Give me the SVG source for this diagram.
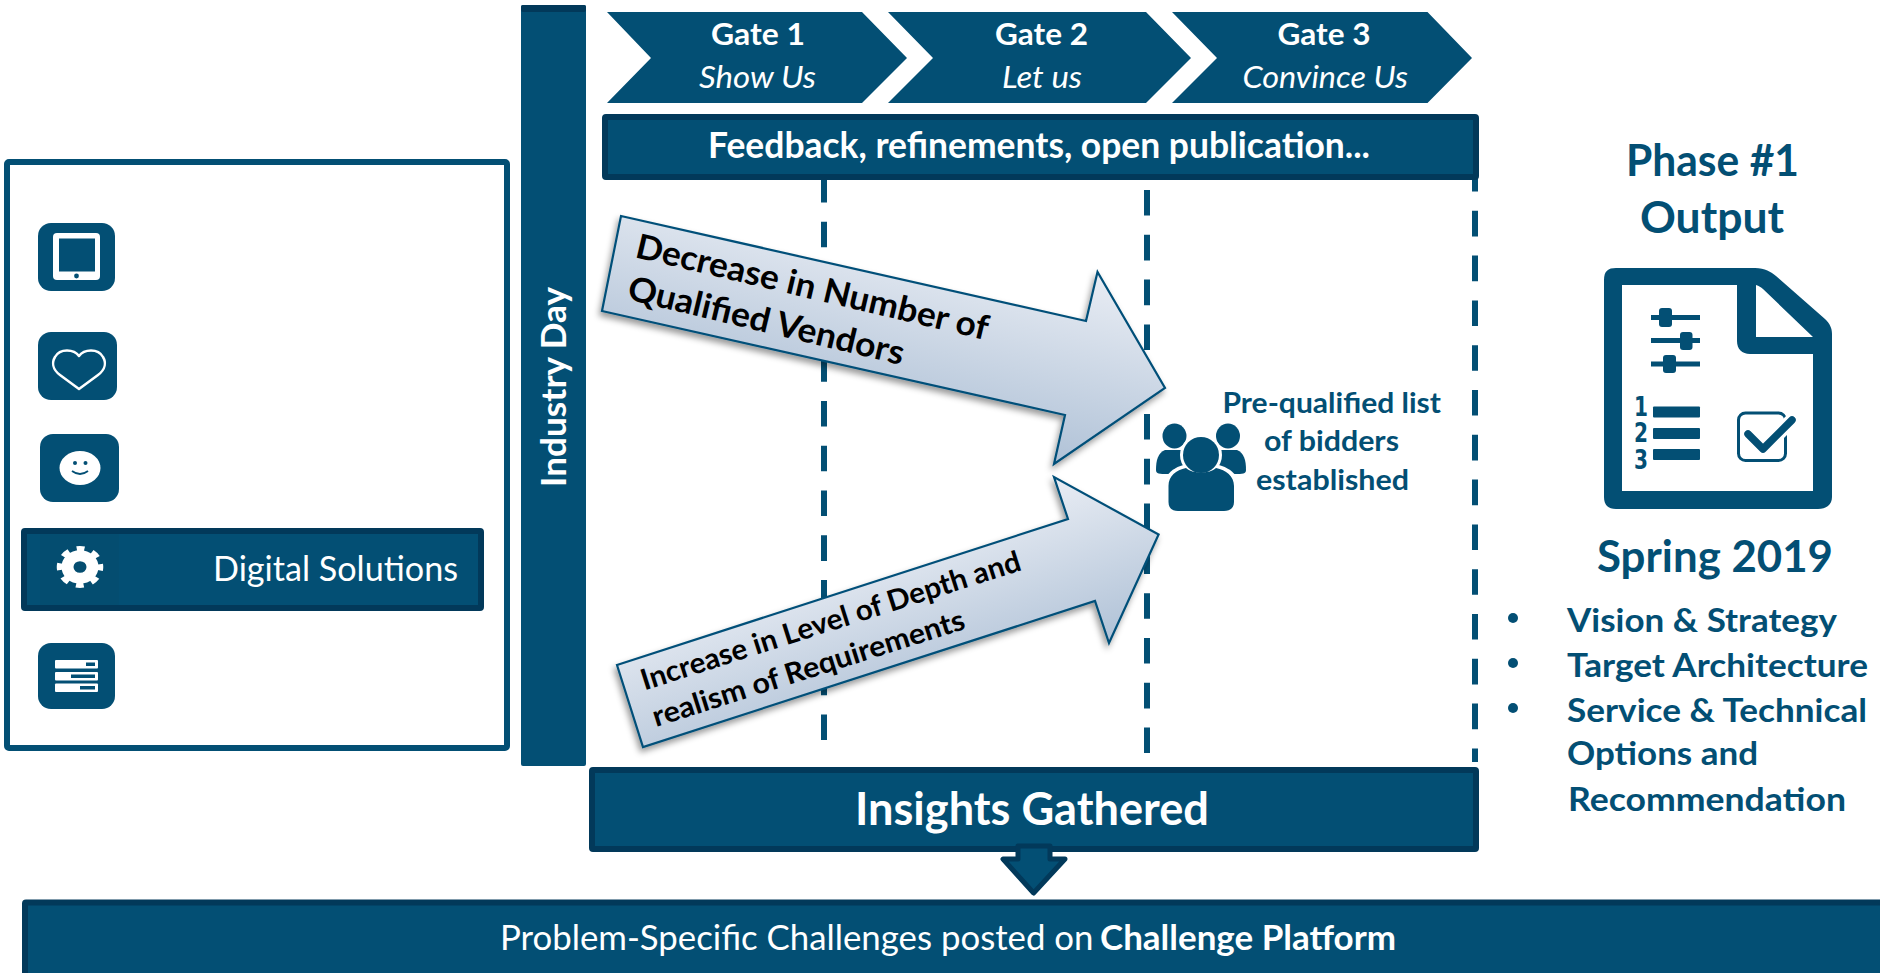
<svg xmlns="http://www.w3.org/2000/svg" width="1880" height="973" viewBox="0 0 1880 973">
<style>
text{font-family:Lato,"Open Sans","Liberation Sans",sans-serif}
.w{fill:#fff}
.b{font-weight:700}
.c{fill:#034f74}
.bar{fill:#034f74;stroke:#02395a;stroke-width:6}
.tile{fill:#034f74}
.dash{stroke:#034f74;stroke-width:6;stroke-dasharray:25.6 19.2;fill:none}
.arrow{stroke:#045079;stroke-width:2.2;filter:url(#sh)}
.k{fill:#000}
</style>
<defs>
<linearGradient id="ag1" gradientUnits="userSpaceOnUse" x1="1097" y1="272" x2="1054" y2="464"><stop offset="0" stop-color="#e9edf4"/><stop offset="1" stop-color="#b0c2d7"/></linearGradient>
<linearGradient id="ag2" gradientUnits="userSpaceOnUse" x1="1054" y1="477" x2="1109" y2="643"><stop offset="0" stop-color="#e9edf4"/><stop offset="1" stop-color="#b0c2d7"/></linearGradient>
<filter id="sh" x="-10%" y="-10%" width="120%" height="125%"><feDropShadow dx="-2" dy="4" stdDeviation="3" flood-color="#000" flood-opacity=".4"/></filter>
</defs>
<rect width="1880" height="973" fill="#fff"/>

<g id="connectors">
<line class="dash" x1="824" y1="176.9" x2="824" y2="741"/>
<line class="dash" x1="1147" y1="190" x2="1147" y2="753"/>
<line class="dash" x1="1475" y1="166" x2="1475" y2="762"/>
</g>

<g id="left-panel">
<rect x="7" y="162" width="500" height="586" rx="2" fill="#fff" stroke="#034f74" stroke-width="6"/>
</g>
<g id="icon-tablet">
<rect class="tile" x="38" y="223" width="77" height="68" rx="13"/>
<rect x="53" y="233" width="47" height="47" rx="4" fill="#fff"/>
<rect class="tile" x="59" y="238.5" width="36" height="33"/>
<circle class="tile" cx="76.5" cy="276" r="2.4"/>
</g>
<g id="icon-heart">
<rect class="tile" x="38" y="332" width="79" height="68" rx="13"/>
<path d="M79 389 L60 375 C52 369 52 362 55 357 C60 348 74 349 79 356 C84 349 98 348 103 357 C106 362 106 369 98 375 Z" fill="none" stroke="#fff" stroke-width="2.5" stroke-linejoin="round"/>
</g>
<g id="icon-smile">
<rect class="tile" x="40" y="434" width="79" height="68" rx="13"/>
<ellipse cx="80" cy="468" rx="20.500" ry="17" fill="#fff"/>
<circle class="tile" cx="75" cy="463" r="2"/><circle class="tile" cx="85.500" cy="463" r="2"/>
<path d="M72 471 Q80 477 88 471" fill="none" stroke="#034f74" stroke-width="1.800"/>
</g>
<g id="digital-solutions">
<rect class="bar" x="24" y="531" width="457" height="77" rx="1"/>
<rect x="40" y="534" width="79" height="71" fill="#044d70"/>
<g transform="translate(80 567) scale(1 .9)">
<circle r="20" fill="none" stroke="#fff" stroke-width="6.500" stroke-dasharray="7.700 8" stroke-dashoffset="3.850"/>
<circle r="12.500" fill="none" stroke="#fff" stroke-width="12"/>
</g>
<text class="w" x="213" y="581" font-size="34" textLength="245" lengthAdjust="spacingAndGlyphs">Digital Solutions</text>
</g>
<g id="icon-server">
<rect class="tile" x="38" y="643" width="77" height="66" rx="13"/>
<rect x="55" y="660" width="43" height="8.500" rx="1" fill="#fff"/><rect x="55" y="672" width="43" height="8.500" rx="1" fill="#fff"/><rect x="55" y="683.500" width="43" height="8.500" rx="1" fill="#fff"/>
<rect class="tile" x="86" y="662.500" width="9" height="3.500"/><rect class="tile" x="71" y="674.500" width="24" height="3.500"/><rect class="tile" x="80" y="686" width="15" height="3.500"/>
</g>

<g id="industry-day">
<rect x="521" y="5" width="65" height="761" rx="2" fill="#034f74"/>
<rect x="521" y="5" width="65" height="7" rx="2" fill="#02395a"/>
<text class="w b" transform="translate(566 487) rotate(-90)" font-size="34" textLength="200" lengthAdjust="spacingAndGlyphs">Industry Day</text>
</g>

<g id="gate-1">
<polygon class="c" points="607,12 862,12 907,58 862,103 607,103 651,58"/>
<text class="w b" x="711" y="45" font-size="31" textLength="94" lengthAdjust="spacingAndGlyphs">Gate 1</text>
<text class="w" x="699" y="88" font-size="31" font-style="italic" textLength="117" lengthAdjust="spacingAndGlyphs">Show Us</text>
</g>
<g id="gate-2">
<polygon class="c" points="888,12 1146,12 1191,58 1146,103 888,103 933,58"/>
<text class="w b" x="995" y="45" font-size="31" textLength="93" lengthAdjust="spacingAndGlyphs">Gate 2</text>
<text class="w" x="1002" y="88" font-size="31" font-style="italic" textLength="80" lengthAdjust="spacingAndGlyphs">Let us</text>
</g>
<g id="gate-3">
<polygon class="c" points="1172,12 1427.500,12 1472,58 1427.500,103 1172,103 1217,58"/>
<text class="w b" x="1277.500" y="45" font-size="31" textLength="93" lengthAdjust="spacingAndGlyphs">Gate 3</text>
<text class="w" x="1242.500" y="88" font-size="31" font-style="italic" textLength="165.500" lengthAdjust="spacingAndGlyphs">Convince Us</text>
</g>

<g id="feedback">
<rect class="bar" x="605" y="117" width="871" height="60" rx="1"/>
<text class="w b" x="708" y="158" font-size="36" textLength="662" lengthAdjust="spacingAndGlyphs">Feedback, refinements, open publication...</text>
</g>

<g id="arrow-decrease">
<polygon class="arrow" fill="url(#ag1)" points="621,216 1086,321 1097.500,272 1165,388 1054,464 1065,415 602,311"/>
<text class="k b" transform="translate(634 257) rotate(13.300)" font-size="34" textLength="361" lengthAdjust="spacingAndGlyphs">Decrease in Number of</text>
<text class="k b" transform="translate(626 299) rotate(13.500)" font-size="34" textLength="283" lengthAdjust="spacingAndGlyphs">Qualified Vendors</text>
</g>
<g id="arrow-increase">
<polygon class="arrow" fill="url(#ag2)" points="617,665 1068,519 1054,477 1158.600,534.500 1109,643 1095,601 643,747"/>
<text class="k" font-weight="700" transform="translate(644.500 690.500) rotate(-17.700)" font-size="29" textLength="397" lengthAdjust="spacingAndGlyphs">Increase in Level of Depth and</text>
<text class="k" font-weight="700" transform="translate(656 727) rotate(-17.600)" font-size="29" textLength="326" lengthAdjust="spacingAndGlyphs">realism of Requirements</text>
</g>

<g id="prequalified">
<g id="people-icon">
<ellipse class="c" cx="1174.500" cy="436" rx="12" ry="12.500"/>
<ellipse class="c" cx="1228" cy="436" rx="12" ry="12.500"/>
<path class="c" d="M1165 450 C1158 453 1156 460 1156 470 C1156 474 1159 474 1168 474 L1234 474 C1243 474 1246 474 1246 470 C1246 460 1244 453 1237 450 L1226 450 L1176 450 Z"/>
<ellipse cx="1201" cy="455" rx="21" ry="21" fill="#fff"/>
<path d="M1165 516 L1165 485 C1165 470 1180 463 1201 463 C1222 463 1238 470 1238 485 L1238 516 Z" fill="#fff"/>
<path class="c" d="M1168.500 502 L1168.500 486 C1168.500 476 1176 470 1186 468 C1192 474 1210 474 1216 468 C1226 470 1234 476 1234 486 L1234 502 C1234 508 1230 511 1224 511 L1178 511 C1172 511 1168.500 508 1168.500 502 Z"/>
<ellipse class="c" cx="1201" cy="455" rx="18" ry="18"/>
</g>
<text class="c b" x="1222.500" y="413" font-size="29" textLength="218.500" lengthAdjust="spacingAndGlyphs">Pre-qualified list</text>
<text class="c b" x="1264" y="451" font-size="29" textLength="135" lengthAdjust="spacingAndGlyphs">of bidders</text>
<text class="c b" x="1256" y="490" font-size="29" textLength="153" lengthAdjust="spacingAndGlyphs">established</text>
</g>

<g id="insights">
<rect class="bar" x="592" y="770" width="884" height="79" rx="1"/>
<text class="w b" x="855" y="825" font-size="45" textLength="354" lengthAdjust="spacingAndGlyphs">Insights Gathered</text>
</g>
<g id="down-arrow">
<polygon points="1018,846 1050,846 1050,859 1065,859 1033.600,893 1003,859 1018,859" fill="#034f74" stroke="#02395a" stroke-width="5" stroke-linejoin="round"/>
</g>
<g id="challenges">
<rect class="bar" x="25" y="902.500" width="1860" height="75" rx="1"/>
<text class="w" x="500" y="950" font-size="34" textLength="593.500" lengthAdjust="spacingAndGlyphs">Problem-Specific Challenges posted on</text>
<text class="w b" x="1100" y="950" font-size="34" textLength="296" lengthAdjust="spacingAndGlyphs">Challenge Platform</text>
</g>

<g id="phase-output">
<text class="c b" x="1626" y="176" font-size="43" textLength="173" lengthAdjust="spacingAndGlyphs">Phase #1</text>
<text class="c b" x="1640" y="233" font-size="43" textLength="144" lengthAdjust="spacingAndGlyphs">Output</text>
<path class="c" fill-rule="evenodd" d="M1604 280 C1604 271 1608 268 1616 268 L1755 268 C1765 268 1771 272 1776 276 L1825 319 C1830 324 1832 328 1832 334 L1832 497 C1832 505 1826 509 1818 509 L1616 509 C1608 509 1604 505 1604 497 Z M1622 285 L1622 491 L1813 491 L1813 354 L1750 354 C1742 354 1737 349 1737 341 L1737 285 Z M1756 285 L1756 337 L1813 337 L1763 289 C1761 287 1759 286 1756 285 Z"/>
<g class="c">
<rect x="1651" y="315" width="49" height="5"/><rect x="1651" y="338" width="49" height="5"/><rect x="1651" y="361.500" width="49" height="5"/>
<rect x="1659" y="308" width="13" height="19" rx="3"/><rect x="1680" y="332" width="12.500" height="18" rx="3"/><rect x="1663" y="355" width="13" height="18" rx="3"/>
<rect x="1653" y="406.500" width="47" height="11" rx="1"/><rect x="1653" y="428" width="47" height="11" rx="1"/><rect x="1653" y="449" width="47" height="11" rx="1"/>
</g>
<text x="1634" y="416" font-size="26" font-weight="700" style="font-family:'DejaVu Sans',sans-serif" class="c" textLength="14" lengthAdjust="spacingAndGlyphs">1</text>
<text x="1634" y="442" font-size="26" font-weight="700" style="font-family:'DejaVu Sans',sans-serif" class="c" textLength="14" lengthAdjust="spacingAndGlyphs">2</text>
<text x="1634" y="469" font-size="26" font-weight="700" style="font-family:'DejaVu Sans',sans-serif" class="c" textLength="14" lengthAdjust="spacingAndGlyphs">3</text>
<rect x="1738.500" y="413" width="47" height="47.500" rx="7" fill="none" stroke="#034f74" stroke-width="3"/>
<path d="M1748 434 L1763 449 L1792 420" fill="none" stroke="#fff" stroke-width="14"/>
<path d="M1748 434 L1763 449 L1792 420" fill="none" stroke="#034f74" stroke-width="7.500" stroke-linecap="round" stroke-linejoin="round"/>
<text class="c b" x="1597" y="572" font-size="44" textLength="236" lengthAdjust="spacingAndGlyphs">Spring 2019</text>
<circle class="c" cx="1513" cy="618" r="5"/><circle class="c" cx="1513" cy="663" r="5"/><circle class="c" cx="1513" cy="708" r="5"/>
<text class="c b" x="1567" y="632" font-size="33" textLength="270" lengthAdjust="spacingAndGlyphs">Vision &amp; Strategy</text>
<text class="c b" x="1567" y="676.500" font-size="33" textLength="301" lengthAdjust="spacingAndGlyphs">Target Architecture</text>
<text class="c b" x="1567" y="721.500" font-size="33" textLength="300" lengthAdjust="spacingAndGlyphs">Service &amp; Technical</text>
<text class="c b" x="1567" y="765" font-size="33" textLength="191" lengthAdjust="spacingAndGlyphs">Options and</text>
<text class="c b" x="1568" y="811" font-size="33" textLength="278" lengthAdjust="spacingAndGlyphs">Recommendation</text>
</g>
</svg>
